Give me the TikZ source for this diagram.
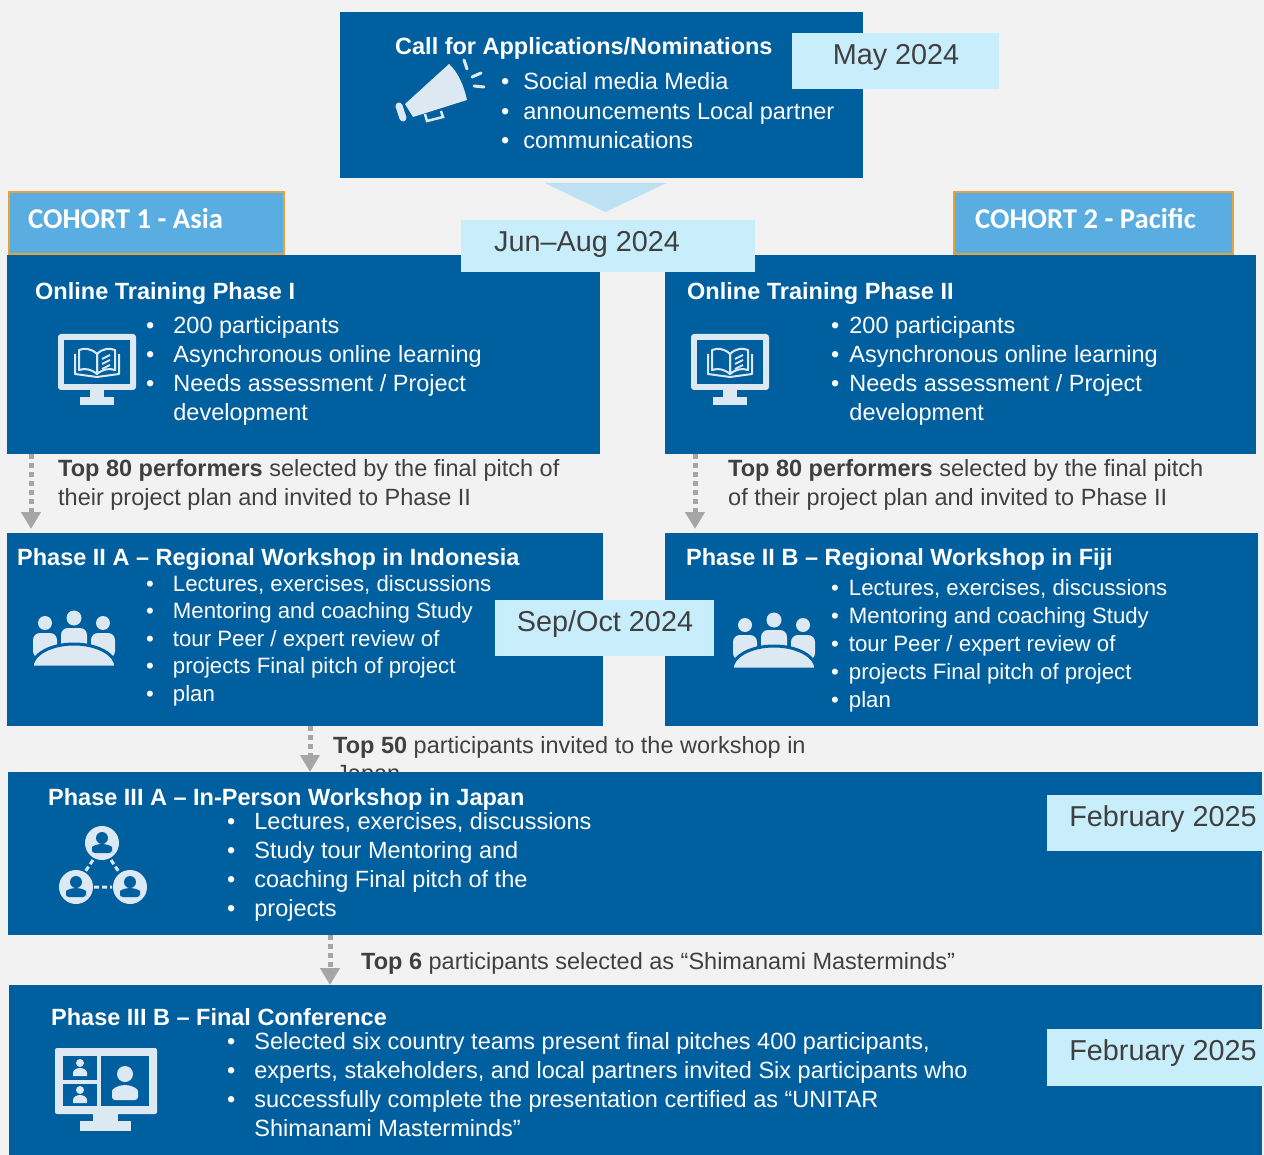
\documentclass[tikz,border=0pt]{standalone}
\usepackage{fontspec}
\setmainfont{Liberation Sans}
\newfontfamily\cohortfont{Carlito}
\usetikzlibrary{arrows.meta}
\definecolor{bgc}{HTML}{F2F2F2}
\definecolor{boxc}{HTML}{005F9E}
\definecolor{datec}{HTML}{C8EEFB}
\definecolor{tric}{HTML}{BEE2F4}
\definecolor{cohc}{HTML}{5AADE0}
\definecolor{cohb}{HTML}{E3A33A}
\definecolor{txtg}{HTML}{404040}
\definecolor{iconc}{HTML}{DCE9F3}
\definecolor{arrc}{HTML}{A6A6A6}
\newcommand{\blist}[2]{\begin{tabular}[t]{@{}l@{\hspace{#1}}l@{}}#2\end{tabular}}
\tikzset{
  box/.style={fill=boxc, draw=none, anchor=north west, inner sep=0pt, outer sep=0pt},
  datebox/.style={fill=datec, draw=none, anchor=north west, inner sep=0pt, outer sep=0pt},
  datetxt/.style={text=txtg, font=\fontsize{28.8}{34}\selectfont, anchor=base, inner sep=0pt},
  cohort/.style={fill=cohc, draw=cohb, line width=2pt, anchor=north west, inner sep=0pt},
  cohtxt/.style={text=white, font=\cohortfont\bfseries\fontsize{28.7}{34}\selectfont, anchor=base west, inner sep=0pt},
  ttl/.style={text=white, font=\bfseries\fontsize{23.5}{29}\selectfont, anchor=base west, inner sep=0pt},
  lst/.style={text=white, anchor=base west, inner sep=0pt},
  captxt/.style={text=txtg, font=\fontsize{23.5}{29}\selectfont, anchor=base west, align=left, inner sep=0pt},
  conn/.style={draw=arrc, line width=5pt, dash pattern=on 5pt off 4pt, -{Triangle[width=19pt,length=17pt]}},
  bookmon/.pic={
    \fill[iconc, rounded corners=3pt] (0,0) rectangle (78,56);
    \fill[boxc] (6,6) rectangle (72,50);
    \fill[iconc] (32,55) rectangle (46,64);
    \fill[iconc] (22,63) rectangle (56,71);
    \begin{scope}[line width=2pt, line join=round]
      \draw[iconc] (39,20) .. controls (33,14) and (26,14) .. (21,16) -- (21,36) .. controls (27,34) and (33,35) .. (39,40) -- cycle;
      \draw[iconc] (39,20) .. controls (45,14) and (52,14) .. (57,16) -- (57,36) .. controls (51,34) and (45,35) .. (39,40) -- cycle;
      \draw[iconc] (17,20) -- (17,40) -- (39,43) -- (61,40) -- (61,20);
      \draw[iconc] (44,25) -- (52,21) (44,30) -- (52,26) (44,35) -- (52,31);
    \end{scope}
  },
  people/.pic={
    \fill[iconc] (13,13) circle[radius=7pt];
    \fill[iconc] (42,8) circle[radius=7.5pt];
    \fill[iconc] (71,13) circle[radius=7pt];
    \fill[iconc, rounded corners=7pt] (1,23) rectangle (25,48);
    \fill[iconc, rounded corners=7pt] (29,18) rectangle (55,44);
    \fill[iconc, rounded corners=7pt] (59,23) rectangle (83,48);
    \filldraw[fill=iconc, draw=boxc, line width=3pt] (0,57) arc[start angle=180, end angle=0, x radius=42pt, y radius=23pt] -- cycle;
  }
}
\begin{document}
\begin{tikzpicture}[x=1pt,y=-1pt]
\fill[bgc] (0,0) rectangle (1264,1155);
\useasboundingbox (0,0) rectangle (1264,1155);

% ---- top box
\node[box, minimum width=523pt, minimum height=166pt] (call) at (340,12) {};
\node[datebox, minimum width=207pt, minimum height=56pt] (may) at (792,33) {};
\node[datetxt] (mayt) at (896,65) {May 2024};
\node[ttl] (callt) at (395,55) {Call for Applications/Nominations};
\node[lst, font=\fontsize{23.5}{29.5}\selectfont] (calll) at (501,90)
  {\blist{14pt}{\textbullet & Social media Media\\ \textbullet & announcements Local partner\\ \textbullet & communications}};
% megaphone
\fill[iconc] (405,104) -- (449,64) .. controls (458,72) and (464,86) .. (467,100) -- (413,117) -- cycle;
\draw[iconc, line width=7pt, line cap=round] (399,106) -- (403,118);
\draw[iconc, line width=2.5pt] (425,114) -- (427,121) -- (443,117) -- (441,111);
\draw[iconc, line width=3pt, line cap=round] (464,60) -- (467,69) (472,77) -- (481,73) (474,86) -- (484,87);

% ---- triangle
\fill[tric] ([xshift=-57pt,yshift=-5pt]call.south) -- ([xshift=65pt,yshift=-5pt]call.south) -- ([xshift=4pt,yshift=4pt]call.south |- 0,216) -- cycle;

% ---- cohorts
\node[cohort, minimum width=275pt, minimum height=62pt] (c1) at (8,191) {};
\node[cohtxt] (c1t) at (28,229) {COHORT 1 - Asia};
\node[cohort, minimum width=279pt, minimum height=62pt] (c2) at (953,191) {};
\node[cohtxt] (c2t) at (975,229) {COHORT 2 - Pacific};

% ---- online training
\node[box, minimum width=593pt, minimum height=199pt] (ot1) at (7,255) {};
\node[box, minimum width=591pt, minimum height=199pt] (ot2) at (665,255) {};
\node[datebox, minimum width=294pt, minimum height=52pt] (jun) at (461,220) {};
\node[datetxt] (junt) at (587,252) {Jun–Aug 2024};
\node[ttl] (ot1t) at (35,300) {Online Training Phase I};
\node[lst, font=\fontsize{23.5}{29}\selectfont] (ot1l) at (146,334)
  {\blist{19pt}{\textbullet & 200 participants\\ \textbullet & Asynchronous online learning\\ \textbullet & Needs assessment / Project\\ & development}};
\pic at (58,334) {bookmon};
\node[ttl] (ot2t) at (687,300) {Online Training Phase II};
\node[lst, font=\fontsize{23.5}{29}\selectfont] (ot2l) at (831,334)
  {\blist{10pt}{\textbullet & 200 participants\\ \textbullet & Asynchronous online learning\\ \textbullet & Needs assessment / Project\\ & development}};
\pic at (691,334) {bookmon};

% captions 1
\node[captxt] (cap1) at (58,505) {\textbf{Top 80 performers} selected by the final pitch of\\their project plan and invited to Phase II};
\node[captxt] (cap2) at (728,505) {\textbf{Top 80 performers} selected by the final pitch\\of their project plan and invited to Phase II};

% ---- phase II
\node[box, minimum width=596pt, minimum height=193pt] (p2a) at (7,533) {};
\node[box, minimum width=593pt, minimum height=193pt] (p2b) at (665,533) {};
\node[ttl] (p2at) at (17,565) {Phase II A – Regional Workshop in Indonesia};
\node[lst, font=\fontsize{22.2}{27.5}\selectfont] (p2al) at (146,591)
  {\blist{19pt}{\textbullet & Lectures, exercises, discussions\\ \textbullet & Mentoring and coaching Study\\ \textbullet & tour Peer / expert review of\\ \textbullet & projects Final pitch of project\\ \textbullet & plan}};
\pic at (32,610) {people};
\node[ttl] (p2bt) at (686,565) {Phase II B – Regional Workshop in Fiji};
\node[lst, font=\fontsize{22.2}{28}\selectfont] (p2bl) at (831,595)
  {\blist{10pt}{\textbullet & Lectures, exercises, discussions\\ \textbullet & Mentoring and coaching Study\\ \textbullet & tour Peer / expert review of\\ \textbullet & projects Final pitch of project\\ \textbullet & plan}};
\pic at (732,612) {people};
\node[datebox, minimum width=219pt, minimum height=56pt] (sep) at (495,600) {};
\node[datetxt] (sept) at (605,631) {Sep/Oct 2024};

\node[captxt] (cap3) at (333,753) {\textbf{Top 50} participants invited to the workshop in};
\node[captxt] (cap3b) at (336,781) {Japan};

% ---- phase III A
\node[box, minimum width=1254pt, minimum height=163pt] (p3a) at (8,772) {};
\node[ttl] (p3at) at (48,805) {Phase III A – In-Person Workshop in Japan};
\node[lst, font=\fontsize{23.5}{29}\selectfont] (p3al) at (227,829)
  {\blist{19pt}{\textbullet & Lectures, exercises, discussions\\ \textbullet & Study tour Mentoring and\\ \textbullet & coaching Final pitch of the\\ \textbullet & projects}};
\node[datebox, minimum width=217pt, minimum height=56pt] (feb1) at (1047,795) {};
\node[datetxt] (feb1t) at (1163,826) {February 2025};
% network icon
\draw[iconc, line width=3pt, dash pattern=on 5pt off 3pt] (93,860) -- (85,872) (111,860) -- (119,872) (94,887) -- (112,887);
\foreach \cx/\cy in {102/843, 76/887, 130/887} {
  \fill[iconc] (\cx,\cy) circle[radius=17pt];
  \fill[boxc] (\cx,\cy-5) circle[radius=6pt];
  \fill[boxc, rounded corners=3pt] (\cx-10,\cy+10) -- (\cx-10,\cy+7) arc[start angle=180, end angle=0, x radius=10pt, y radius=6pt] -- (\cx+10,\cy+10) -- cycle;
}

\node[captxt] (cap4) at (361,969) {\textbf{Top 6} participants selected as “Shimanami Masterminds”};

% ---- phase III B
\node[box, minimum width=1253pt, minimum height=170pt] (p3b) at (9,985) {};
\node[ttl] (p3bt) at (51,1025) {Phase III B – Final Conference};
\node[lst, font=\fontsize{23.5}{29}\selectfont] (p3bl) at (227,1049)
  {\blist{19pt}{\textbullet & Selected six country teams present final pitches 400 participants,\\ \textbullet & experts, stakeholders, and local partners invited Six participants who\\ \textbullet & successfully complete the presentation certified as “UNITAR\\ & Shimanami Masterminds”}};
\node[datebox, minimum width=217pt, minimum height=57pt] (feb2) at (1047,1029) {};
\node[datetxt] (feb2t) at (1163,1060) {February 2025};
% video conference icon
\fill[iconc, rounded corners=2pt] (55,1048) rectangle (157,1114);
\fill[iconc] (93,1113) rectangle (118,1122);
\fill[iconc] (80,1121) rectangle (131,1131);
\fill[boxc] (63,1056) rectangle (97,1080);
\fill[boxc] (63,1084) rectangle (97,1106);
\fill[boxc] (101,1056) rectangle (149,1106);
\foreach \cx/\cy in {80/1068, 80/1095} {
  \fill[iconc] (\cx,\cy-5) circle[radius=4pt];
  \fill[iconc] (\cx-7,\cy+8) -- (\cx-7,\cy+5) arc[start angle=180, end angle=0, x radius=7pt, y radius=5pt] -- (\cx+7,\cy+8) -- cycle;
}
\fill[iconc] (125,1074) circle[radius=8pt];
\fill[iconc, rounded corners=3pt] (112,1100) -- (112,1094) arc[start angle=180, end angle=0, x radius=13pt, y radius=9pt] -- (138,1100) -- cycle;

% ---- connectors
\draw[conn] ([xshift=24pt]ot1.south west) -- ([xshift=24pt,yshift=4pt]p2a.north west);
\draw[conn] ([xshift=30pt]ot2.south west) -- ([xshift=30pt,yshift=4pt]p2b.north west);
\draw[conn] ([xshift=303pt]p2a.south west) -- ([xshift=302pt]p3a.north west);
\draw[conn] ([xshift=322pt]p3a.south west) -- ([xshift=321pt]p3b.north west);
\end{tikzpicture}
\end{document}
